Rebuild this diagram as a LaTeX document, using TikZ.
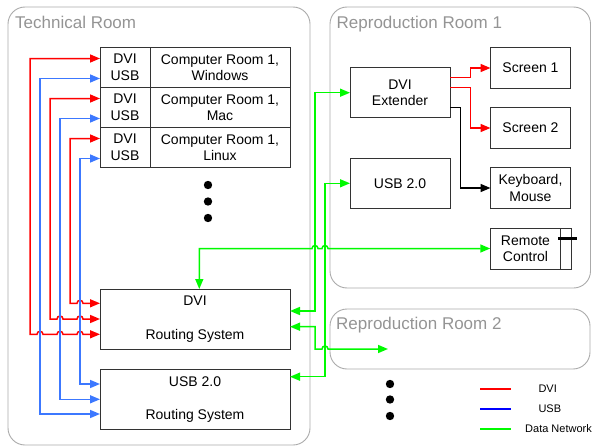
\documentclass[tikz,border=0pt]{standalone}
\usepackage{fontspec}
\setmainfont{Liberation Sans}
\usetikzlibrary{arrows.meta,positioning}
\definecolor{dvired}{RGB}{255,0,0}
\definecolor{usbblue}{RGB}{60,120,255}
\definecolor{legendblue}{RGB}{0,0,255}
\definecolor{netgreen}{RGB}{0,250,0}
\definecolor{roomgray}{RGB}{170,170,170}

\begin{document}
\begin{tikzpicture}[x=1pt,y=-1pt,
  box/.style={draw=black!80, line width=0.9pt, fill=white, inner sep=0pt, outer sep=0pt,
    align=center, font=\fontsize{14}{16.5}\selectfont},
  port/.style={box, minimum width=50pt, minimum height=40pt},
  comp/.style={box, minimum width=140pt, minimum height=40pt},
  routing/.style={box, minimum width=190pt, minimum height=60pt},
  device/.style={box, minimum width=80pt, minimum height=41pt},
  room/.style={draw=roomgray, line width=0.9pt, rounded corners=17pt},
  roomtitle/.style={text=black!42, font=\fontsize{17}{20}\selectfont, anchor=base west, inner sep=0pt},
  legendtext/.style={font=\fontsize{11}{13}\selectfont, inner sep=0pt, anchor=west},
  legendline/.style={line width=1.5pt},
  wire/.style={line width=1.5pt, {Triangle[length=10pt,width=8pt]}-{Triangle[length=10pt,width=8pt]}},
  oneway/.style={line width=1.5pt, -{Triangle[length=10pt,width=8pt]}},
  dviwire/.style={wire, dvired},
  usbwire/.style={wire, usbblue},
  netwire/.style={wire, netgreen}]
\useasboundingbox (0,0) rectangle (592,447);

% rooms
\draw[room] (8,7) rectangle (310,445);
\node[roomtitle] (techtitle) at (15,28.7) {Technical Room};
\draw[room] (330,7) rectangle (590.5,288);
\node[roomtitle] (rep1title) at (336.5,28.7) {Reproduction Room 1};
\draw[room] (330,309) rectangle (590,369);
\node[roomtitle] (rep2title) at (336,329) {Reproduction Room 2};

% computer table
\node[port] (port1) at (125,67.5) {DVI\\USB};
\node[comp, right=0pt of port1] (comp1) {Computer Room 1,\\Windows};
\node[port, below=0pt of port1] (port2) {DVI\\USB};
\node[comp, right=0pt of port2] (comp2) {Computer Room 1,\\Mac};
\node[port, below=0pt of port2] (port3) {DVI\\USB};
\node[comp, right=0pt of port3] (comp3) {Computer Room 1,\\Linux};
\foreach \y in {185,201.5,218}
  \fill (208,\y) circle (4.2pt);

\node[routing] (dvirs) at (195,319) {DVI\\[17.5pt]Routing System};
\node[routing] (usbrs) at (195,399.3) {USB 2.0\\[16.8pt]Routing System};

% reproduction room 1
\node[box, minimum width=100pt, minimum height=50pt] (ext) at (400,92.7) {DVI\\Extender};
\node[box, minimum width=100pt, minimum height=50pt] (usb) at (400,183.3) {USB 2.0};
\node[device] (scr1) at (530.5,68) {Screen 1};
\node[device, below=19pt of scr1] (scr2) {Screen 2};
\node[device, below=19pt of scr2] (kbd) {Keyboard,\\Mouse};
\node[box, minimum width=70.5pt, minimum height=41pt] (remote) at (525.5,248.5) {Remote\\Control};
\node[box, minimum width=11pt, minimum height=41pt, right=0pt of remote] (knob) {};
\draw[line width=3pt] (558.3,238.3) -- (576.5,238.3);

\foreach \y in {384,399.5,416}
  \fill (390,\y) circle (4.2pt);
\coordinate (rep2in) at (388,349);

% DVI and USB from the computers
\draw[dviwire] ([yshift=9pt]port1.west) -| (30,334.3)
  -- (37,334.3) arc[start angle=180,end angle=0,radius=3pt]
  -- (57,334.3) arc[start angle=180,end angle=0,radius=3pt]
  -- (77,334.3) arc[start angle=180,end angle=0,radius=3pt]
  -- ([yshift=-15.3pt]dvirs.west);
\draw[dviwire] ([yshift=9pt]port2.west) -| (50,319)
  -- (57,319) arc[start angle=180,end angle=0,radius=3pt]
  -- (77,319) arc[start angle=180,end angle=0,radius=3pt]
  -- (dvirs.west);
\draw[dviwire] ([yshift=9pt]port3.west) -| (70,303.3)
  -- (77,303.3) arc[start angle=180,end angle=0,radius=3pt]
  -- ([yshift=15.7pt]dvirs.west);
\draw[usbwire] ([yshift=-11pt]port1.west) -| (40,414) -- ([yshift=-14.7pt]usbrs.west);
\draw[usbwire] ([yshift=-11pt]port2.west) -| (60,399.3) -- (usbrs.west);
\draw[usbwire] ([yshift=-11pt]port3.west) -| (80,384) -- ([yshift=15.3pt]usbrs.west);

% data network
\draw[netwire] ([yshift=8pt]dvirs.east) -| (315,92.7) -- (ext.west);
\draw[netwire] ([yshift=-7.7pt]dvirs.east) -| (315,349)
  -- (322,349) arc[start angle=180,end angle=0,radius=3pt] -- (rep2in);
\draw[netwire] ([yshift=22.6pt]usbrs.east) -| (325,183.3) -- (usb.west);
\draw[netwire] ([xshift=4.3pt]dvirs.north) |- (312,248.5)
  arc[start angle=180,end angle=0,radius=3pt]
  -- (322,248.5) arc[start angle=180,end angle=0,radius=3pt]
  -- (remote.west);

% outputs of the extender
\draw[oneway, dvired] ([yshift=15pt]ext.east) -- (470.7,77.7) |- (scr1.west);
\draw[oneway, dvired] ([yshift=5.4pt]ext.east) -- (470.7,87.3) |- (scr2.west);
\draw[oneway, black] ([yshift=-15pt]ext.east) -- (460.7,107.7) |- (kbd.west);

% legend
\node[legendtext] (lgdvi) at (538.3,389) {DVI};
\node[legendtext] (lgusb) at (538.3,409) {USB};
\node[legendtext] (lgnet) at (525,429) {Data Network};
\draw[legendline, draw=dvired] (480,389) -- (510.7,389);
\draw[legendline, draw=legendblue] (480,409) -- (510.7,409);
\draw[legendline, draw=netgreen] (480,429) -- (510.7,429);
\end{tikzpicture}
\end{document}
